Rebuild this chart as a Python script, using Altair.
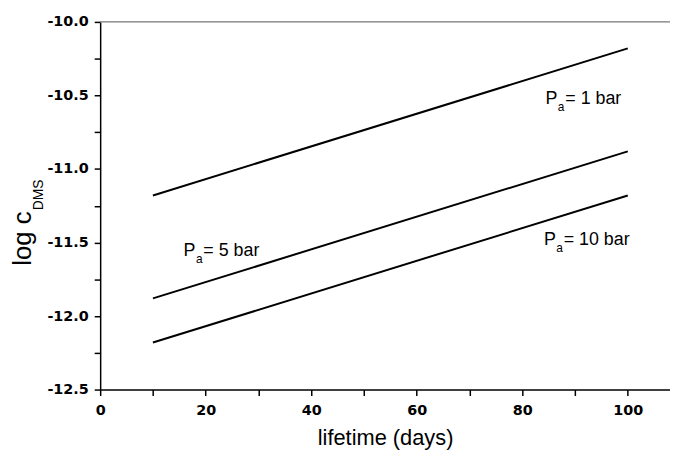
import altair as alt
import pandas as pd

# ---- data ----
lifetime = [10, 100]
series = ["1 bar", "5 bar", "10 bar"]
logc_1bar = [-11.18, -10.18]
logc_5bar = [-11.88, -10.88]
logc_10bar = [-12.18, -11.18]

label_text = ["= 1 bar", "= 5 bar", "= 10 bar"]
label_x = [84.4, 15.8, 84.1]
label_y = [-10.561, -11.595, -11.516]

x_ticks = [0, 10, 20, 30, 40, 50, 60, 70, 80, 90, 100]
y_ticks = [-12.5, -12.25, -12.0, -11.75, -11.5, -11.25, -11.0, -10.75, -10.5, -10.25, -10.0]

# ---- tables ----
rows = []
for name, vals in zip(series, [logc_1bar, logc_5bar, logc_10bar]):
    for t, v in zip(lifetime, vals):
        rows.append({"series": name, "lifetime": t, "logc": v})
lines_df = pd.DataFrame(rows)
labels_df = pd.DataFrame({"lifetime": label_x, "logc": label_y, "rest": label_text,
                          "P": ["P"] * 3, "sub": ["a"] * 3})

W, H = 575, 371
FONT = "Liberation Sans"

x_enc = alt.X("lifetime:Q",
              scale=alt.Scale(domain=[0, 108], nice=False, zero=False),
              axis=alt.Axis(values=x_ticks,
                            labelExpr="datum.value % 20 == 0 ? datum.label : ''",
                            title="lifetime (days)", grid=False,
                            labelOverlap=False, labelFlush=False,
                            titleFont=FONT, titleFontSize=22, titleFontWeight="normal",
                            titlePadding=11, titleColor="black"))
y_enc = alt.Y("logc:Q",
              scale=alt.Scale(domain=[-12.5, -10.0], nice=False, zero=False),
              axis=alt.Axis(values=y_ticks,
                            labelExpr="abs(datum.value*2 - round(datum.value*2)) < 0.01 ? replace(format(datum.value, '.1f'), '\u2212', '-') : ''",
                            title=None, grid=False, labelOverlap=False, labelFlush=False))

lines = alt.Chart(lines_df).mark_line(color="black", strokeWidth=2).encode(
    x=x_enc, y=y_enc, detail="series:N")

p_text = alt.Chart(labels_df).mark_text(
    align="left", baseline="alphabetic", font=FONT, fontSize=18, color="black"
).encode(x=x_enc, y=y_enc, text="P:N")
sub_text = alt.Chart(labels_df).mark_text(
    align="left", baseline="alphabetic", font=FONT, fontSize=12, color="black", dx=12.5, dy=7
).encode(x=x_enc, y=y_enc, text="sub:N")
rest_text = alt.Chart(labels_df).mark_text(
    align="left", baseline="alphabetic", font=FONT, fontSize=18, color="black", dx=20
).encode(x=x_enc, y=y_enc, text="rest:N")

ytitle_main = alt.Chart(pd.DataFrame({"t": ["log c"]})).mark_text(
    align="left", baseline="alphabetic", angle=270, font=FONT, fontSize=26, color="black"
).encode(x=alt.value(-69.3), y=alt.value(246), text="t:N")
ytitle_sub = alt.Chart(pd.DataFrame({"t": ["DMS"]})).mark_text(
    align="left", baseline="alphabetic", angle=270, font=FONT, fontSize=14, color="black"
).encode(x=alt.value(-57.7), y=alt.value(190), text="t:N")

top_rule = alt.Chart(pd.DataFrame({"a": [0]})).mark_rule(color="#777777", strokeWidth=1.2).encode(
    x=alt.value(0), x2=alt.value(W), y=alt.value(0))

chart = alt.layer(lines, p_text, sub_text, rest_text, ytitle_main, ytitle_sub, top_rule).properties(
    width=W, height=H,
    background="white",
    autosize=alt.AutoSizeParams(type="none"),
    padding={"left": 93, "top": 12, "right": 0, "bottom": 66},
).configure_view(stroke=None).configure_axis(
    domainColor="black", domainWidth=1.5, tickColor="black", tickWidth=1.5, tickSize=6,
    labelFont="DejaVu Sans", labelFontWeight="bold", labelFontSize=14.5, labelColor="black",
    labelPadding=6,
).configure_axisX(labelPadding=8)

chart.save("out.html", embed_options={"renderer": "svg", "actions": False})
